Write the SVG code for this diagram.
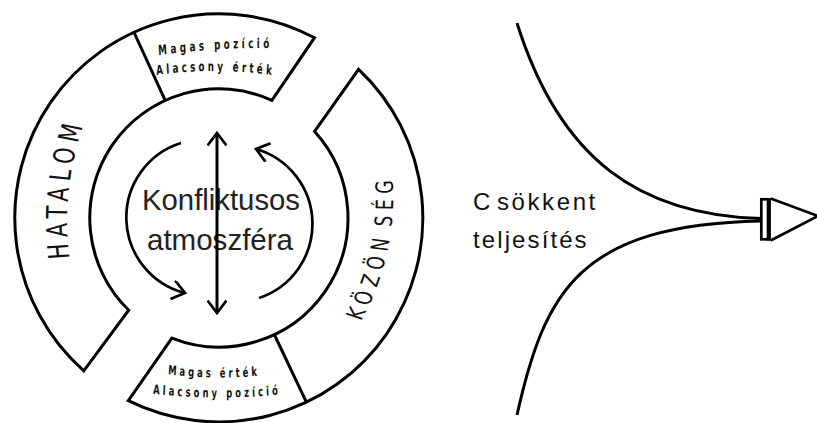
<svg xmlns="http://www.w3.org/2000/svg" width="817" height="423" viewBox="0 0 817 423">
<style>
.ring{fill:#fff;stroke:#000;stroke-width:3;stroke-linejoin:miter}
.ln{fill:none;stroke:#000;stroke-width:3}
.arc{fill:none;stroke:#000;stroke-width:2.7}
.band{font-family:"Liberation Sans Narrow","DejaVu Sans Condensed","Liberation Sans",sans-serif;fill:#111}
.small{font-family:"Liberation Sans Narrow","DejaVu Sans Condensed","Liberation Sans",sans-serif;font-weight:bold;font-size:13.5px;fill:#111}
.small2{font-family:"Liberation Sans Narrow","DejaVu Sans Condensed","Liberation Sans",sans-serif;font-weight:bold;font-size:13px;fill:#111}
.center{font-family:"Liberation Sans","Open Sans",sans-serif;font-size:30px;fill:#222}
.label{font-family:"Liberation Sans",sans-serif;font-size:24px;fill:#111}
</style>
<defs>
<marker id="v" viewBox="0 0 20 20" markerWidth="20" markerHeight="20" refX="17" refY="10" orient="auto-start-reverse" markerUnits="userSpaceOnUse">
<path d="M4.5,0.5 L17,10 L4.5,19.5" fill="none" stroke="#000" stroke-width="2.7"/>
</marker>
<path id="pHat" d="M72.4,343.75 A444,444 0 0,1 89.2,137.5"/>
<path id="pKoz" d="M353,418.75 A384,384 0 0,0 391,206.25"/>
<path id="pT1" d="M211.1,56 A1543,1543 0 0,1 383.3,48"/>
<path id="pT2" d="M208.3,76 A791,791 0 0,1 386.1,76"/>
<path id="pB1" d="M222.2,373 A760,760 0 0,0 368.1,375"/>
<path id="pB2" d="M202.8,393 A1164,1164 0 0,0 395.8,394"/>
</defs>
<rect width="817" height="423" fill="#fff"/>

<g id="hatalom">
<path class="ring" d="M83.8,370.8 A204,204 0 0,1 314.5,37.7 L271.9,100.3 A129,129 0 0,0 128.7,310.2 Z"/>
<path class="ln" d="M134.1,32.5 L165.3,100.7"/>
<g transform="scale(1,0.8)">
<text class="band" font-size="29"><textPath href="#pHat" startOffset="50%" text-anchor="middle" textLength="167">HATALOM</textPath></text>
</g>
</g>

<g id="magas-pozicio">
<g transform="scale(0.72,1)">
<text class="small"><textPath href="#pT1" startOffset="50%" text-anchor="middle" textLength="154">Magas pozíció</textPath></text>
<text class="small"><textPath href="#pT2" startOffset="50%" text-anchor="middle" textLength="160">Alacsony érték</textPath></text>
</g>
</g>

<g id="kozonseg">
<path class="ring" d="M358.6,69.3 A204,204 0 0,1 128.3,400.7 L171.9,338.1 A129,129 0 0,0 314.6,131.4 Z"/>
<path class="ln" d="M274.3,334.5 L306.5,402.3"/>
<g transform="scale(1,0.8)">
<text class="band" font-size="24"><textPath href="#pKoz" startOffset="50%" text-anchor="middle" textLength="181">KÖZÖN<tspan dx="8">SÉG</tspan></textPath></text>
</g>
</g>

<g id="magas-ertek">
<g transform="scale(0.72,1)">
<text class="small2"><textPath href="#pB1" startOffset="50%" text-anchor="middle" textLength="124">Magas érték</textPath></text>
<text class="small2"><textPath href="#pB2" startOffset="50%" text-anchor="middle" textLength="174">Alacsony pozíció</textPath></text>
</g>
</g>

<g id="konfliktus">
<text class="center" x="221" y="210" text-anchor="middle" textLength="158" lengthAdjust="spacingAndGlyphs">Konfliktusos</text>
<text class="center" x="220" y="250" text-anchor="middle" textLength="146" lengthAdjust="spacingAndGlyphs">atmoszféra</text>
</g>

<g id="csokkent">
<text class="label" x="473" y="210" letter-spacing="2.6">C<tspan dx="4">sökkent</tspan></text>
<text class="label" x="473" y="248" letter-spacing="2.1">teljesítés</text>
</g>

<g id="connectors">
<path class="arc" d="M181,143 A78,78 0 0,0 185,293" marker-end="url(#v)"/>
<path class="arc" d="M259,298 A78,78 0 0,0 256,149" marker-end="url(#v)"/>
<path class="ln" d="M217,133 L217,313" marker-start="url(#v)" marker-end="url(#v)"/>
<path class="ln" d="M517,23 C560,160 640,215 761,218.5"/>
<path class="ln" d="M517,415 C545,290 580,225 761,221"/>
<rect x="761.3" y="199.3" width="8" height="40" fill="#fff" stroke="#000" stroke-width="2.7"/>
<rect x="766.7" y="198" width="4" height="42.6" fill="#000"/>
<path d="M770.7,198.5 L818,216 L770.7,240.5" fill="none" stroke="#000" stroke-width="2.7"/>
</g>
</svg>
